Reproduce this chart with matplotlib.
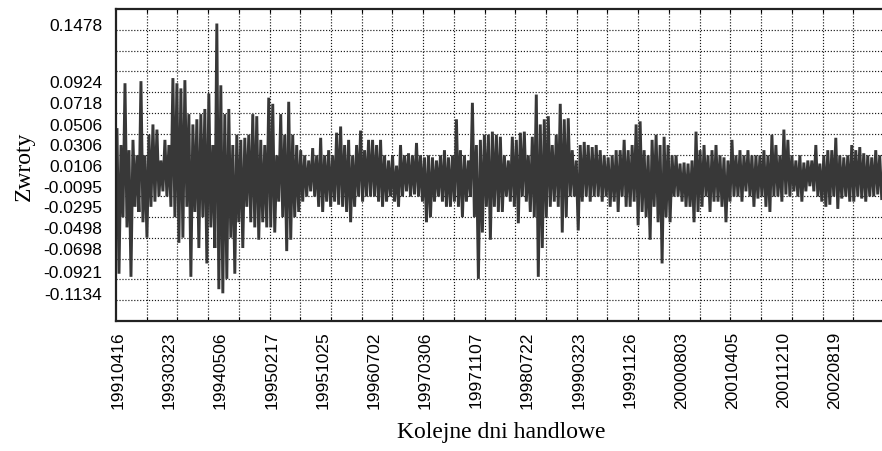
import numpy as np
import matplotlib
matplotlib.use("Agg")
import matplotlib.pyplot as plt
from matplotlib.ticker import FixedLocator

# dzienne zwroty: maksimum i minimum w kolejnych krotkich odcinkach
zwroty_max = [
    0.045, 0.03, 0.09, 0.025, 0.035, 0.02, 0.092, 0.02, 0.04, 0.05, 0.045, 0.015, 0.035, 0.03, 0.095, 0.09,
    0.085, 0.093, 0.06, 0.05, 0.055, 0.06, 0.065, 0.08, 0.03, 0.148, 0.088, 0.06, 0.065, 0.03, 0.04, 0.035,
    0.037, 0.04, 0.06, 0.058, 0.035, 0.03, 0.076, 0.07, 0.02, 0.06, 0.04, 0.072, 0.04, 0.03, 0.025, 0.02,
    0.015, 0.027, 0.02, 0.037, 0.02, 0.025, 0.02, 0.042, 0.048, 0.03, 0.035, 0.02, 0.03, 0.044, 0.025, 0.035,
    0.035, 0.03, 0.035, 0.02, 0.015, 0.02, 0.01, 0.03, 0.02, 0.022, 0.02, 0.032, 0.02, 0.018, 0.02, 0.018,
    0.015, 0.02, 0.025, 0.018, 0.02, 0.055, 0.025, 0.02, 0.015, 0.071, 0.03, 0.035, 0.04, 0.04, 0.043, 0.04,
    0.038, 0.02, 0.015, 0.038, 0.035, 0.042, 0.043, 0.02, 0.038, 0.079, 0.05, 0.055, 0.058, 0.03, 0.04, 0.07,
    0.055, 0.056, 0.025, 0.015, 0.03, 0.033, 0.03, 0.028, 0.03, 0.025, 0.02, 0.018, 0.02, 0.025, 0.025, 0.035,
    0.025, 0.03, 0.05, 0.053, 0.025, 0.02, 0.035, 0.04, 0.03, 0.038, 0.03, 0.02, 0.02, 0.012, 0.013, 0.012,
    0.015, 0.043, 0.025, 0.03, 0.02, 0.025, 0.03, 0.02, 0.018, 0.015, 0.035, 0.02, 0.025, 0.02, 0.025, 0.02,
    0.02, 0.02, 0.025, 0.02, 0.04, 0.03, 0.02, 0.045, 0.035, 0.02, 0.015, 0.02, 0.013, 0.015, 0.015, 0.03,
    0.012, 0.02, 0.025, 0.025, 0.037, 0.02, 0.018, 0.02, 0.03, 0.025, 0.028, 0.022, 0.02, 0.018, 0.025, 0.02,
]
zwroty_min = [
    -0.095, -0.04, -0.05, -0.098, -0.03, -0.035, -0.045, -0.06, -0.03, -0.025, -0.02, -0.015, -0.02, -0.03, -0.04, -0.065,
    -0.06, -0.03, -0.098, -0.035, -0.07, -0.04, -0.085, -0.05, -0.07, -0.11, -0.114, -0.1, -0.06, -0.095, -0.045, -0.07,
    -0.03, -0.045, -0.05, -0.062, -0.045, -0.05, -0.05, -0.055, -0.025, -0.04, -0.073, -0.062, -0.04, -0.035, -0.025, -0.02,
    -0.015, -0.02, -0.03, -0.035, -0.025, -0.03, -0.025, -0.028, -0.03, -0.035, -0.045, -0.03, -0.02, -0.025, -0.02, -0.02,
    -0.02, -0.025, -0.03, -0.025, -0.02, -0.025, -0.03, -0.02, -0.015, -0.02, -0.018, -0.02, -0.025, -0.045, -0.04, -0.025,
    -0.02, -0.025, -0.03, -0.03, -0.025, -0.03, -0.04, -0.025, -0.02, -0.04, -0.1, -0.055, -0.03, -0.062, -0.03, -0.035,
    -0.035, -0.02, -0.025, -0.03, -0.046, -0.02, -0.025, -0.035, -0.04, -0.098, -0.07, -0.04, -0.03, -0.025, -0.03, -0.055,
    -0.04, -0.02, -0.02, -0.053, -0.025, -0.02, -0.025, -0.02, -0.02, -0.025, -0.02, -0.03, -0.025, -0.035, -0.02, -0.03,
    -0.03, -0.025, -0.048, -0.035, -0.04, -0.062, -0.03, -0.045, -0.085, -0.04, -0.045, -0.02, -0.02, -0.025, -0.03, -0.03,
    -0.045, -0.035, -0.03, -0.02, -0.035, -0.025, -0.025, -0.03, -0.045, -0.025, -0.02, -0.02, -0.025, -0.015, -0.02, -0.03,
    -0.022, -0.02, -0.03, -0.035, -0.02, -0.02, -0.025, -0.018, -0.02, -0.015, -0.02, -0.025, -0.015, -0.01, -0.015, -0.02,
    -0.025, -0.03, -0.028, -0.02, -0.032, -0.022, -0.02, -0.025, -0.025, -0.02, -0.022, -0.025, -0.02, -0.02, -0.018, -0.022,
]

daty = ["19910416", "19930323", "19940506", "19950217", "19951025", "19960702", "19970306", "19971107",
        "19980722", "19990323", "19991126", "20000803", "20010405", "20011210", "20020819"]
etykiety_y = [0.1478, 0.0924, 0.0718, 0.0506, 0.0306, 0.0106, -0.0095, -0.0295, -0.0498, -0.0698, -0.0921, -0.1134]

# na przemian max i min -> gesty przebieg jak na oryginale
zwroty = np.ravel(np.column_stack([zwroty_max, zwroty_min]))
dni = 3.9 + 7.8 * np.arange(len(zwroty))

fig = plt.figure(figsize=(8.82, 4.52), dpi=100)
ax = fig.add_axes([116 / 882, 130 / 452, 770 / 882, 312 / 452])

ax.plot(dni, zwroty, color="#383838", linewidth=2.1, solid_joinstyle="miter")

ymin, ymax = -0.1409, 0.1621
ax.set_xlim(0, 3008)
ax.set_ylim(ymin, ymax)

# siatka
ax.xaxis.set_minor_locator(FixedLocator(np.arange(120, 3008, 120)))
ax.yaxis.set_minor_locator(FixedLocator(np.linspace(ymin, ymax, 16)[1:-1]))
ax.grid(which="minor", color="#1a1a1a", linestyle=(0, (1, 1.5)), linewidth=0.85)
ax.grid(which="major", visible=False)
ax.set_axisbelow(True)

ax.set_xticks(8 + 200 * np.arange(len(daty)))
ax.set_xticklabels(daty, rotation=90, fontsize=12.5, family="Liberation Sans")
ax.set_yticks(etykiety_y)
ax.set_yticklabels([f"{v:.4f}" for v in etykiety_y], fontsize=12.5, family="Liberation Sans")
ax.tick_params(which="major", length=0, pad=10)
ax.tick_params(axis="x", which="major", pad=7)
ax.tick_params(which="minor", direction="in", length=3, top=True, width=0.8)
ax.tick_params(axis="y", which="minor", length=0)

for s in ["left", "top", "bottom"]:
    ax.spines[s].set_linewidth(1.6)
    ax.spines[s].set_color("#222222")

ax.set_ylabel("Zwroty", family="Liberation Serif", fontsize=17, labelpad=6)
ax.set_xlabel("Kolejne dni handlowe", family="Liberation Serif", fontsize=17, labelpad=9)

fig.savefig("out.png", dpi=100)
